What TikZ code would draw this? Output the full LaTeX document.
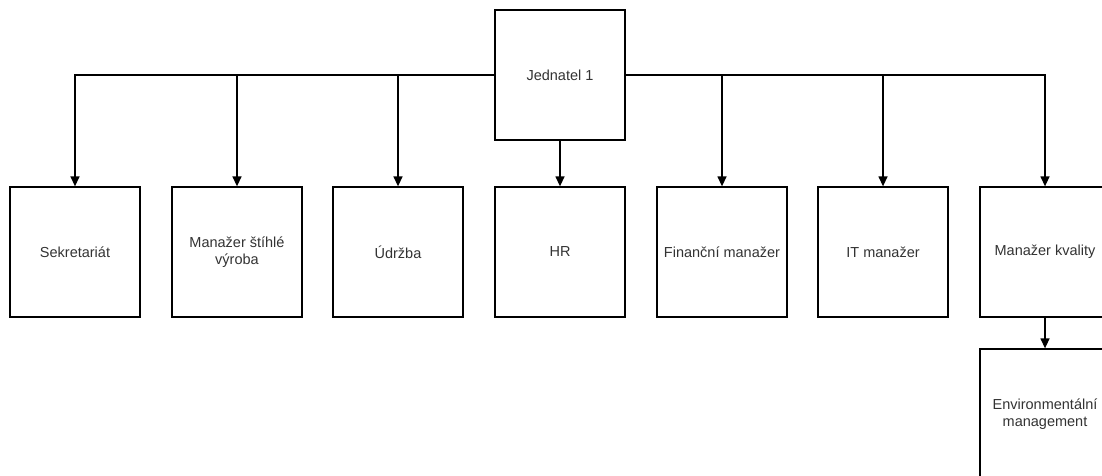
\documentclass[tikz,border=0pt]{standalone}
\usepackage{fontspec}
\setmainfont{Liberation Sans}
\usetikzlibrary{arrows.meta}
\definecolor{txt}{HTML}{333333}
\tikzset{
  box/.style={draw=black, line width=1.3pt, minimum width=130pt, minimum height=130pt, inner sep=0pt,
    align=center, text=txt, font=\fontsize{14.5}{17}\selectfont},
  arr/.style={draw=black, line width=1.4pt, -{Triangle[length=10pt,width=9pt]}},
}
\begin{document}
\begin{tikzpicture}[x=1pt,y=-1pt]
\useasboundingbox (0,0) rectangle (1102,476);
\clip (0,0) rectangle (1102,476);
\fill[white] (0,0) rectangle (1102,476);
\node[box] (top) at (560,75) {Jednatel 1};
\node[box] (b1) at (75,252) {Sekretariát};
\node[box] (b2) at (237,252) {Manažer štíhlé\\výroba};
\node[box] (b3) at (398,252) {Údržba};
\node[box] (b4) at (560,252) {HR};
\node[box] (b5) at (722,252) {Finanční manažer};
\node[box] (b6) at (883,252) {IT manažer};
\node[box] (b7) at (1045,252) {Manažer kvality};
\node[box] (env) at (1045,414) {Environmentální\\management};
\draw[arr] (top.west) -| (b1.north);
\draw[arr] (top.west) -| (b2.north);
\draw[arr] (top.west) -| (b3.north);
\draw[arr] (top.south) -- (b4.north);
\draw[arr] (top.east) -| (b5.north);
\draw[arr] (top.east) -| (b6.north);
\draw[arr] (top.east) -| (b7.north);
\draw[arr] (b7.south) -- (env.north);
\end{tikzpicture}
\end{document}
